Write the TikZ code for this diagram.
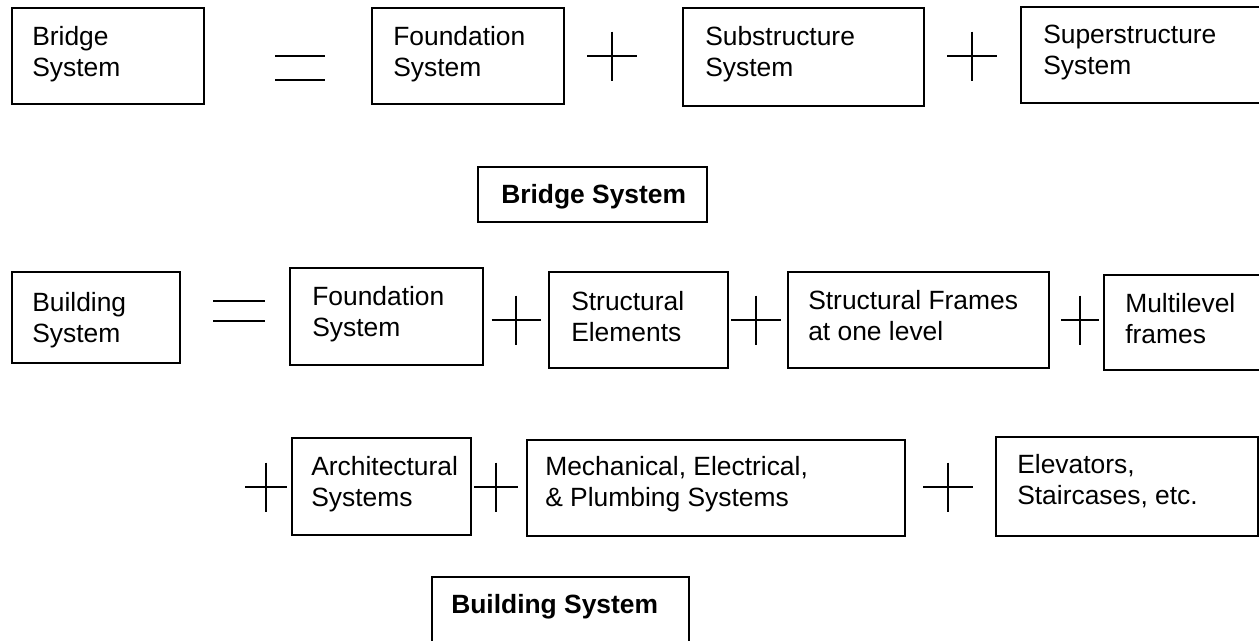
\documentclass[tikz,border=0pt]{standalone}
\usepackage{fontspec}
\setmainfont{Liberation Sans}
\tikzset{
  sysbox/.style={draw, line width=1.5pt, inner sep=0pt, outer sep=0pt},
  lbl/.style={anchor=base west, inner sep=0pt, align=left,
              font=\fontsize{19.8pt}{23.25pt}\selectfont},
  % two-line labels: placed by the baseline of their first line
  lbltwo/.style={lbl, yshift=-23.25pt},
  ttl/.style={lbl, font=\fontsize{19.8pt}{23.25pt}\selectfont\bfseries},
  op/.style={line width=1.1pt}
}
% box from its left, top, right and bottom edges (in pixel units)
\newcommand{\sysframe}[5]{%
  \node[sysbox, minimum width={(#4-#2)*0.75pt}, minimum height={(#5-#3)*0.75pt}]
    (#1) at ({(#2+#4)/2},{(#3+#5)/2}) {};}
% plus sign: name, centre x, centre y, half width of the bar
\newcommand{\plusop}[4]{%
  \coordinate (#1) at (#2,#3);
  \draw[op] (#1) ++(-#4,0) -- ++(2*#4,0);
  \draw[op] (#1) ++(0,-24.5) -- ++(0,49);}
% equals sign: name, centre x, centre y, half width, half gap
\newcommand{\eqop}[5]{%
  \coordinate (#1) at (#2,#3);
  \draw[op] (#1) ++(-#4,-#5) -- ++(2*#4,0);
  \draw[op] (#1) ++(-#4,#5) -- ++(2*#4,0);}
\begin{document}
\begin{tikzpicture}[x=0.75pt, y=-0.75pt]
\useasboundingbox (0,0) rectangle (1259,640);

% ---- bridge system ----
\sysframe{bridge}{12}{8}{204}{104}
\sysframe{fndA}{372}{8}{564}{104}
\sysframe{sub}{683}{8}{924}{106}
\sysframe{sup}{1021}{7}{1268}{103}
\sysframe{bridgettl}{478}{167}{707}{222}

\node[lbltwo] (bridge-t) at (32,45) {Bridge\\System};
\node[lbltwo] (fndA-t) at (393,45) {Foundation\\System};
\node[lbltwo] (sub-t) at (705,45) {Substructure\\System};
\node[lbltwo] (sup-t) at (1043,43) {Superstructure\\System};
\node[ttl] (bridgettl-t) at (501,203) {Bridge System};

\eqop{eqA}{300}{68}{25}{12}
\plusop{plA}{612}{56}{25}
\plusop{plB}{972}{56}{25}

% ---- building system ----
\sysframe{bldg}{12}{272}{180}{363}
\sysframe{fndB}{290}{268}{483}{365}
\sysframe{elem}{549}{272}{728}{368}
\sysframe{frames}{788}{272}{1049}{368}
\sysframe{multi}{1104}{275}{1268}{370}

\node[lbltwo] (bldg-t) at (32,311) {Building\\System};
\node[lbltwo] (fndB-t) at (312,305) {Foundation\\System};
\node[lbltwo] (elem-t) at (571,310) {Structural\\Elements};
\node[lbltwo] (frames-t) at (808,309) {Structural Frames\\at one level};
\node[lbltwo] (multi-t) at (1125,312) {Multilevel\\frames};

\eqop{eqB}{239}{311}{26}{10}
\plusop{plC}{516}{320}{24.5}
\plusop{plD}{756}{320}{25}
\plusop{plE}{1080}{320}{19}

\sysframe{arch}{292}{438}{471}{535}
\sysframe{mep}{527}{440}{905}{536}
\sysframe{elev}{996}{437}{1258}{536}
\sysframe{bldgttl}{432}{577}{689}{660}

\node[lbltwo] (arch-t) at (311,475) {Architectural\\Systems};
\node[lbltwo] (mep-t) at (545,475) {Mechanical, Electrical,\\\& Plumbing Systems};
\node[lbltwo] (elev-t) at (1017,473) {Elevators,\\Staircases, etc.};
\node[ttl] (bldgttl-t) at (451,613) {Building System};

\plusop{plF}{266}{487}{21}
\plusop{plG}{496}{487}{22}
\plusop{plH}{948}{487}{25}
\end{tikzpicture}
\end{document}
